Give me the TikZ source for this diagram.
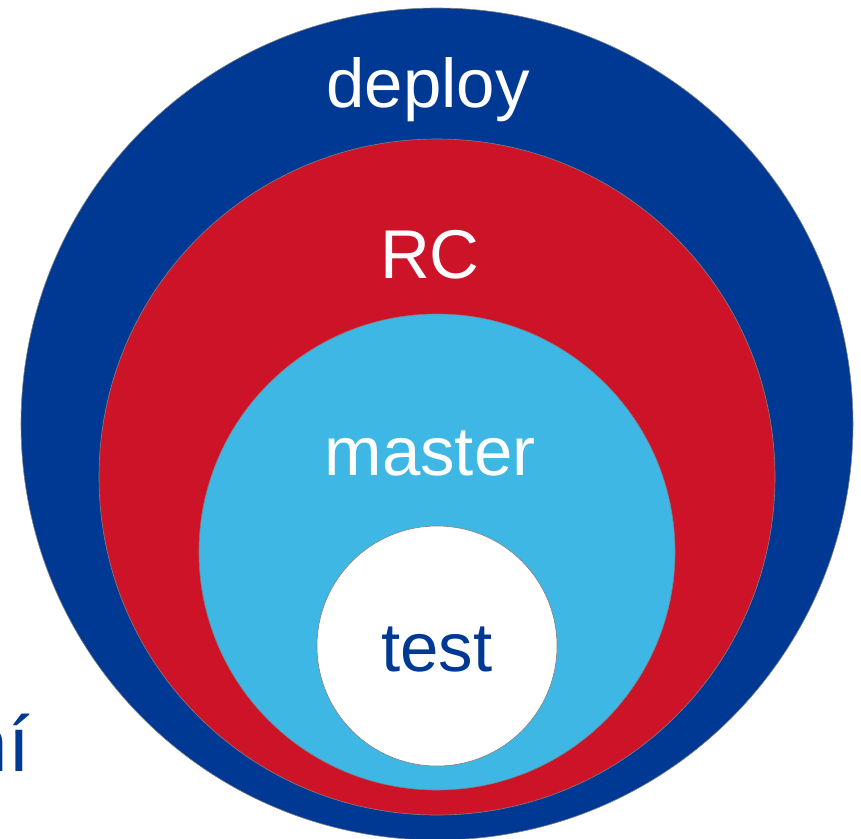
\documentclass[tikz,border=0pt]{standalone}
\usepackage{fontspec}
\setmainfont{Liberation Sans}
\definecolor{deployblue}{RGB}{0,57,148}
\definecolor{rcred}{RGB}{205,19,40}
\definecolor{mastercyan}{RGB}{62,183,228}
\begin{document}
\begin{tikzpicture}[x=1pt,y=-1pt]
        \def\Cx{437}       % Common centre (x) of the circles
        \def\Size{69}      % Font size of the labels
        \tikzset{ring/.style={draw=gray, line width=0.6pt},
                 lbl/.style={anchor=base, inner sep=0pt, text=white,
                             font=\fontsize{\Size}{\Size}\selectfont}}
        \useasboundingbox (0,0) rectangle (861,838);

        \filldraw[ring, fill=deployblue] (\Cx,424) circle (416pt);
        \filldraw[ring, fill=rcred]      (\Cx,477) circle (338pt);
        \filldraw[ring, fill=mastercyan] (\Cx,552) circle (238pt);
        \filldraw[ring, fill=white]      (\Cx,646) circle (120pt);

        \node[lbl] (deploy) at (428,107) {deploy};
        \node[lbl] (rc)     at (430,278) {RC};
        \node[lbl] (master) at (430,475) {master};
        \node[lbl, text=deployblue] (test) at (\Cx,671) {test};
        \node[lbl, anchor=base east, text=deployblue,
              font=\fontsize{78}{78}\selectfont] (cut) at (30,771) {ní};
    \end{tikzpicture}
\end{document}
